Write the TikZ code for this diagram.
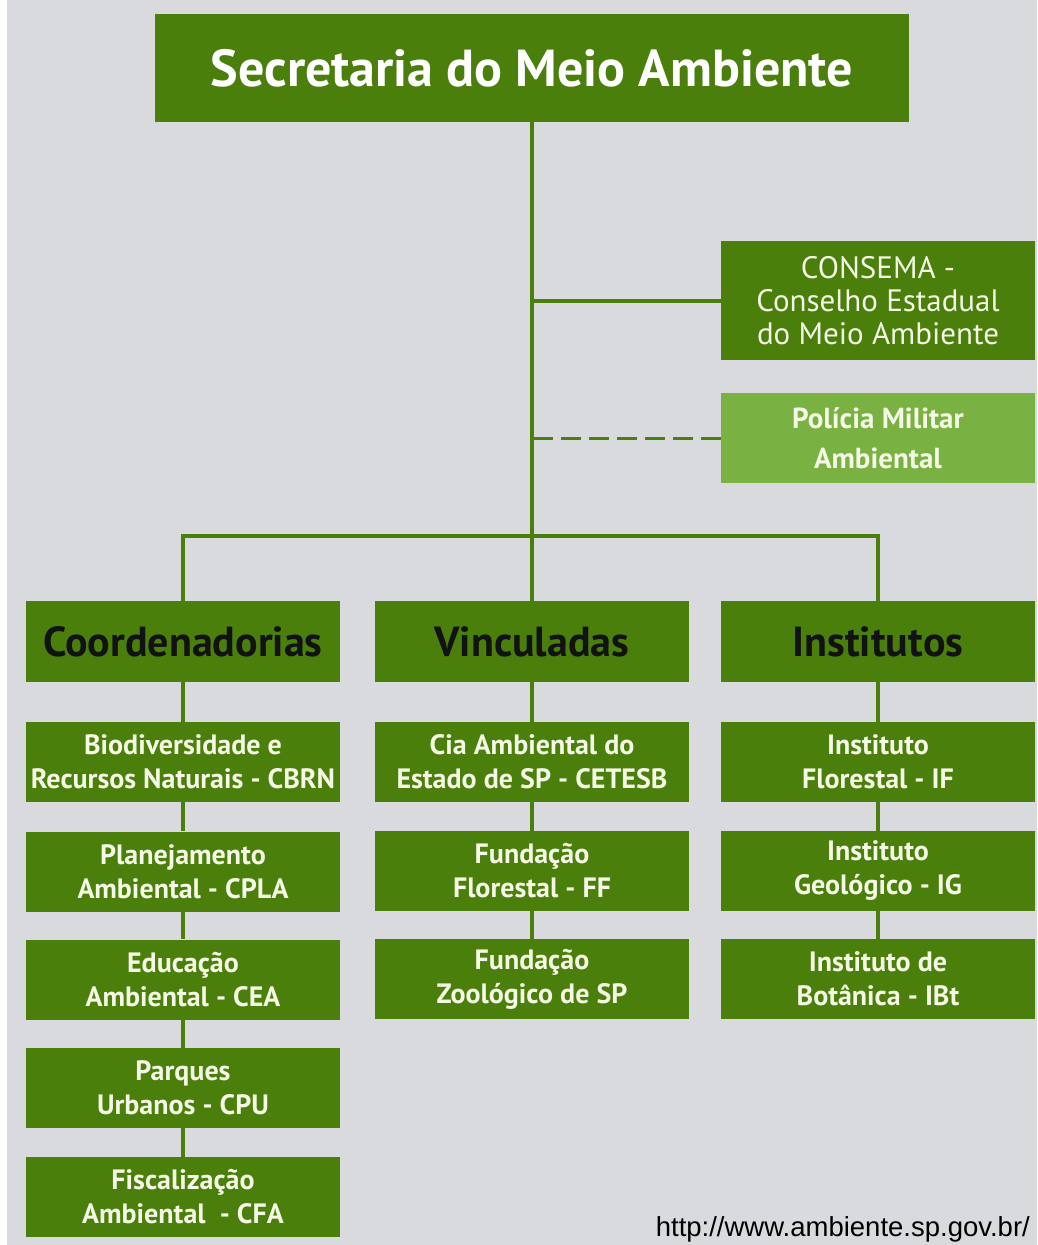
\documentclass[tikz,border=0pt]{standalone}
\usepackage{fontspec}
\setmainfont{PT Sans}
\newfontfamily\urlfont{Liberation Sans}
\definecolor{bg}{HTML}{D9DADE}
\definecolor{dg}{HTML}{4B7F0C}
\definecolor{lg}{HTML}{7AB143}
\definecolor{tx}{HTML}{F4F8E4}
\definecolor{hd}{HTML}{121212}
\begin{document}
\begin{tikzpicture}[x=1pt,y=-1pt,
  box/.style={fill=dg, draw=none, inner sep=0pt, align=center, text=tx,
    minimum width=314pt, minimum height=80pt,
    font=\bfseries\fontsize{28}{34}\selectfont},
  hdrbox/.style={box, minimum height=81pt, text=hd,
    font=\bfseries\fontsize{42}{44}\selectfont},
  topbox/.style={box, minimum width=754pt, minimum height=108pt, text=white,
    font=\bfseries\fontsize{52}{56}\selectfont},
  consbox/.style={box, minimum height=119pt,
    font=\fontsize{31}{33}\selectfont},
  polbox/.style={box, fill=lg, minimum height=90pt,
    font=\bfseries\fontsize{29}{40}\selectfont},
  link/.style={draw=dg, line width=4pt},
  dlink/.style={draw=dg, line width=3pt, dash pattern=on 20pt off 8pt},
]
\fill[bg] (0,0) rectangle (1037,1245);
\fill[white] (0,0) rectangle (7,1245);

\node[topbox] (top) at (532,68) {Secretaria do Meio Ambiente};
\node[consbox] (cons) at (878,300.5) {CONSEMA -\\Conselho Estadual\\do Meio Ambiente};
\node[polbox] (pol) at (878,438) {Polícia Militar\\Ambiental};

\node[hdrbox] (h1) at (183,641.5) {Coordenadorias};
\node[hdrbox] (h2) at (532,641.5) {Vinculadas};
\node[hdrbox] (h3) at (878,641.5) {Institutos};

\node[box] (a1) at (183,762) {Biodiversidade e\\Recursos Naturais - CBRN};
\node[box] (a2) at (183,871.5) {Planejamento\\Ambiental - CPLA};
\node[box] (a3) at (183,979.5) {Educação\\Ambiental - CEA};
\node[box] (a4) at (183,1088) {Parques\\Urbanos - CPU};
\node[box] (a5) at (183,1197) {Fiscalização\\Ambiental \ - CFA};

\node[box] (b1) at (532,762) {Cia Ambiental do\\Estado de SP - CETESB};
\node[box] (b2) at (532,871) {Fundação\\Florestal - FF};
\node[box] (b3) at (532,979) {Fundação\\Zoológico de SP};

\node[box] (c1) at (878,762) {Instituto\\Florestal - IF};
\node[box] (c2) at (878,871) {Instituto\\Geológico - IG};
\node[box] (c3) at (878,979) {Instituto de\\Botânica - IBt};

\draw[link] (top.south) -- (h2.north);
\draw[link] (cons.west) -- (cons.west -| top.south);
\draw[dlink] (pol.west) -- (pol.west -| top.south);
\draw[link] (h1.north) -- ++(0,-65) -| (h3.north);

\draw[link] (h1.south) -- (a1.north);
\draw[link] (a1.south) -- (a2.north);
\draw[link] (a2.south) -- (a3.north);
\draw[link] (a3.south) -- (a4.north);
\draw[link] (a4.south) -- (a5.north);

\draw[link] (h2.south) -- (b1.north);
\draw[link] (b1.south) -- (b2.north);
\draw[link] (b2.south) -- (b3.north);

\draw[link] (h3.south) -- (c1.north);
\draw[link] (c1.south) -- (c2.north);
\draw[link] (c2.south) -- (c3.north);

\node[anchor=base east, inner sep=0pt, text=black, font=\urlfont\fontsize{27.5}{30}\selectfont] (url) at (1030,1236) {http://www.ambiente.sp.gov.br/};
\end{tikzpicture}
\end{document}
